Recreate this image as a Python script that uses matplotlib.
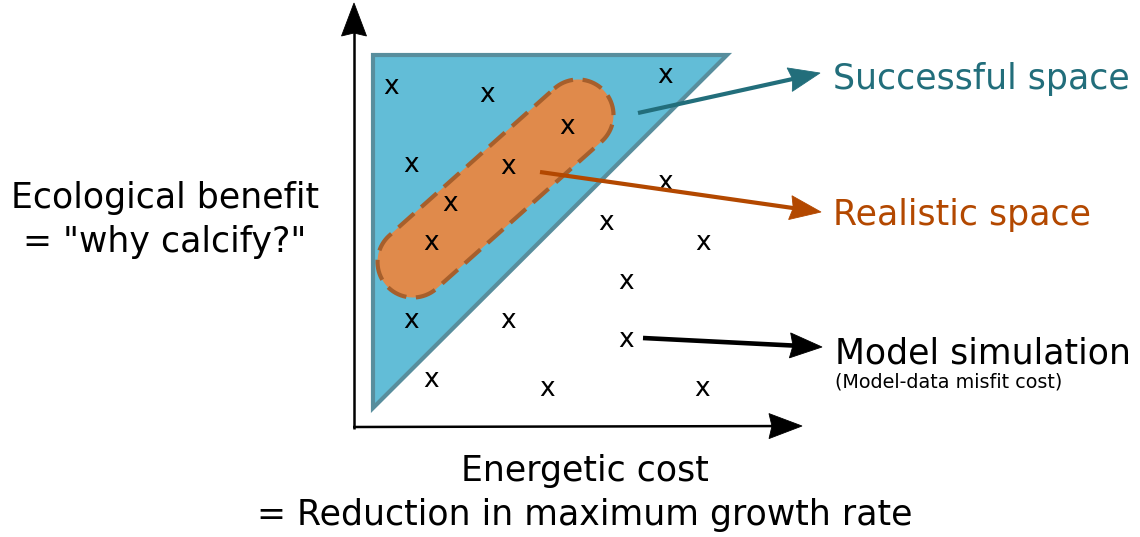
import numpy as np
import matplotlib
matplotlib.use("Agg")
import matplotlib.pyplot as plt
from matplotlib.patches import Polygon

# ---- data (pixel-space layout of the conceptual diagram) ----
sim_x = [391, 487, 665, 567, 411, 508, 665, 450, 606, 703, 431, 626, 411, 508, 626, 431, 547, 702]
sim_y = [87, 95, 76, 127, 165, 167, 183, 204, 223, 243, 243, 282, 321, 321, 340, 380, 389, 389]

success_x = [373, 727, 373]
success_y = [55, 55, 408]

realistic_ends_x = [413, 578]
realistic_ends_y = [262, 115]
realistic_radius = 35.5

labels_right = ["Successful space", "Realistic space", "Model simulation"]
label_colors = ["#226e7b", "#b34800", "#000000"]
y_label = ["Ecological benefit", "= \"why calcify?\""]
x_label = ["Energetic cost", "= Reduction in maximum growth rate"]
sub_label = "(Model-data misfit cost)"

fig = plt.figure(figsize=(11.4, 5.37), dpi=100)
ax = fig.add_axes([0, 0, 1, 1])
ax.set_xlim(0, 1140)
ax.set_ylim(537, 0)
ax.axis("off")


def arrow(start, end, color, lw, head_len, half_w, notch, z):
    s = np.asarray(start, float)
    e = np.asarray(end, float)
    d = (e - s) / np.linalg.norm(e - s)
    n = np.array([-d[1], d[0]])
    back = e - d * head_len
    notch_pt = back + d * notch
    head = np.array([e, back + n * half_w, notch_pt, back - n * half_w])
    ax.plot([s[0], notch_pt[0] + d[0] * 2], [s[1], notch_pt[1] + d[1] * 2], color=color,
            linewidth=lw, solid_capstyle="butt", zorder=z)
    ax.add_patch(Polygon(head, closed=True, facecolor=color, edgecolor=color,
                         linewidth=0.6, zorder=z))


# successful space triangle
tri = Polygon(np.column_stack([success_x, success_y]), closed=True,
              facecolor="#62bdd7", edgecolor="#588e9d", linewidth=3, joinstyle="miter", zorder=1)
ax.add_patch(tri)

# realistic space capsule
p1 = np.array([realistic_ends_x[0], realistic_ends_y[0]], float)
p2 = np.array([realistic_ends_x[1], realistic_ends_y[1]], float)
dd = (p2 - p1) / np.linalg.norm(p2 - p1)
base = np.arctan2(dd[1], dd[0])
t2 = np.linspace(base - np.pi / 2, base + np.pi / 2, 80)
t1 = np.linspace(base + np.pi / 2, base + 3 * np.pi / 2, 80)
pts = np.vstack([p2 + realistic_radius * np.column_stack([np.cos(t2), np.sin(t2)]),
                 p1 + realistic_radius * np.column_stack([np.cos(t1), np.sin(t1)])])
pts = np.vstack([pts, pts[:1]])
ax.add_patch(Polygon(pts, closed=True, facecolor="#e08a4b", edgecolor="none", zorder=2))
ax.plot(pts[:, 0], pts[:, 1], color="#a65f2c", linewidth=3, linestyle=(0, (5, 2.3)),
        zorder=3, dash_capstyle="butt")

# simulations
for x, y in zip(sim_x, sim_y):
    ax.text(x, y + 7.2, "x", fontsize=19, ha="center", va="baseline", color="black", zorder=4)

# axes arrows
arrow((354, 429), (354, 3), "black", 1.8, 33, 12.5, 3, 5)
arrow((353, 427), (802, 426), "black", 1.8, 33, 12.5, 3, 5)

# pointer arrows
arrow((638, 113), (820, 73), label_colors[0], 3, 31, 12, 3, 6)
arrow((540, 172), (821, 212), label_colors[1], 3, 31, 12, 3, 6)
arrow((643, 338), (822, 347), label_colors[2], 3.3, 32, 12.5, 3, 6)

# right labels
ax.text(833, 89, labels_right[0], fontsize=25, color=label_colors[0], va="baseline", ha="left")
ax.text(833, 225, labels_right[1], fontsize=25, color=label_colors[1], va="baseline", ha="left")
ax.text(835, 363, labels_right[2], fontsize=25, color=label_colors[2], va="baseline", ha="left")
ax.text(835, 388, sub_label, fontsize=13.8, color="black", va="baseline", ha="left")

# axis labels
ax.text(165, 208, y_label[0], fontsize=25, ha="center", va="baseline")
ax.text(165, 252, y_label[1], fontsize=25, ha="center", va="baseline")
ax.text(585, 481, x_label[0], fontsize=25, ha="center", va="baseline")
ax.text(585, 525, x_label[1], fontsize=25, ha="center", va="baseline")

fig.savefig("out.png", dpi=100, facecolor="white")
